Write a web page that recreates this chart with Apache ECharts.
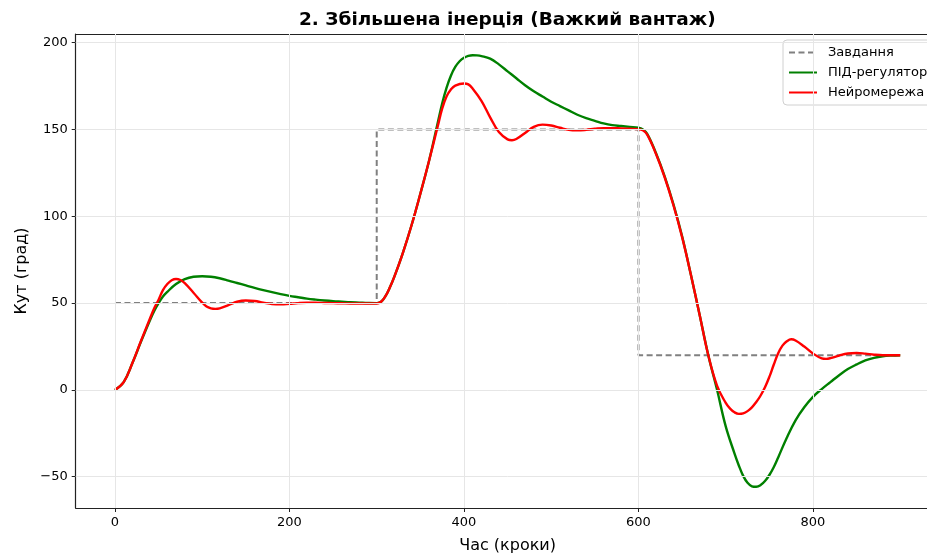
<!DOCTYPE html>
<html><head><meta charset="utf-8">
<script src="https://cdn.jsdelivr.net/npm/echarts@6/dist/echarts.min.js"></script>
<style>html,body{margin:0;padding:0;background:#fff;overflow:hidden;width:927px;height:553px}#c{width:940px;height:553px}</style>
</head><body><div id="c"></div>
<script>
const titleText = '2. Збільшена інерція (Важкий вантаж)';
const xName = 'Час (кроки)';
const yName = 'Кут (град)';
const names = ['Завдання', 'ПІД-регулятор', 'Нейромережа'];
const xTicks = [0, 200, 400, 600, 800];
const yTicks = [-50, 0, 50, 100, 150, 200];

const spT = [0, 300, 300, 600, 600, 900];
const spY = [50, 50, 150, 150, 20, 20];

const pidT = [0,10,20,30,40,45,50,55,60,70,80,90,100,
  110,120,130,140,150,160,170,180,190,200,210,220,230,240,250,260,270,280,290,300,
  305,310,315,320,330,340,350,360,
  370,375,380,385,390,395,400,405,410,415,420,
  430,440,450,460,470,480,490,500,510,520,530,540,550,560,570,580,590,600,
  605,610,620,630,640,650,660,670,680,690,700,710,
  715,720,725,730,735,740,745,750,755,760,
  770,780,790,800,810,820,830,840,850,860,870,880,890,900];
const pidY = [0,4.5,15.5,28,40,45.5,50,53.8,56.5,61,63.8,65.2,65.5,
  65.2,64.3,63,61.6,60.2,58.8,57.5,56.3,55.2,54.2,53.4,52.6,52,51.5,51.1,50.8,50.5,50.3,50.1,50,
  50.8,54,59,65,79,95,113,132,
  154,165,174,181,186,189.3,191.3,192.4,192.8,192.7,192.3,
  190.8,187.5,183.5,179.5,175.5,172,169,166,163.5,161,158.5,156.5,155,153.5,152.5,152,151.5,151,
  150,147.5,136.5,123,107,88.5,66.5,43.5,20,0.2,-21,-36.5,
  -43.5,-49.5,-53.5,-55.5,-55.8,-54.8,-52.5,-49,-44.5,-39,
  -27.5,-17.5,-10,-4,0.5,4.5,8.5,12,14.7,17,18.5,19.4,19.8,20];

const nnT = [0,10,20,30,40,45,50,55,60,65,70,75,80,90,100,105,110,115,120,
  130,140,150,160,170,180,190,200,210,220,230,240,250,260,270,280,290,300,
  305,310,315,320,330,340,350,360,370,375,380,385,390,400,405,410,420,430,440,450,455,
  460,470,480,490,500,510,520,530,540,550,560,570,580,590,600,
  605,610,620,630,640,650,660,670,680,690,700,705,710,715,720,725,730,735,740,745,750,755,760,765,770,775,780,
  790,800,810,815,820,830,840,850,860,870,880,890,900];
const nnY = [0,4.5,15.5,28.5,41,47,52,57.5,61,63.2,63.9,63.3,61.5,56,50.3,48,47,46.7,47,
  48.8,50.8,51.5,51.2,50.3,49.5,49.3,49.6,50,50.2,50.2,50.1,50,49.9,49.8,49.8,49.8,49.8,
  50.8,54,59,65,79,95,113,132,152,162,169,173,175.3,176.5,176,173.5,166.5,157,148.5,144.3,143.8,
  144.5,148,151.5,152.8,152.3,151,149.8,149.5,149.8,150.4,150.8,150.8,150.6,150.4,150.2,
  149.5,147,136,122.5,106.5,88,66.5,43.5,20,2.5,-7.5,-10.8,-12.9,-13.8,-13.5,-12.2,-10,-7,-3.2,1.5,7.5,14.5,21,25.5,28,29.2,28.5,
  25,21,18.2,17.9,18.3,19.8,21,21.3,20.9,20.3,20,20,20];

const zip = (a, b) => a.map((v, i) => [v, b[i]]);
const FONT = 'DejaVu Sans';
const minus = v => String(v).replace('-', '\u2212');

const chart = echarts.init(document.getElementById('c'), null, {renderer: 'canvas'});
chart.setOption({
  animation: false,
  backgroundColor: '#fff',
  title: {
    text: titleText, left: 294, top: 6,
    textStyle: {fontFamily: FONT, fontSize: 18.5, fontWeight: 'bold', color: '#000'}
  },
  legend: {
    data: names, orient: 'vertical', left: 783, top: 40,
    itemWidth: 28, itemHeight: 13, itemGap: 7,
    padding: [6, 8, 6, 5],
    itemStyle: {opacity: 0},
    backgroundColor: '#fff', borderColor: '#d0d0d0', borderWidth: 1, borderRadius: 4,
    textStyle: {fontFamily: FONT, fontSize: 13, color: '#000', padding: [0, 0, 0, 6]}
  },
  grid: {left: 75.7, right: 0.5, top: 34, bottom: 45, outerBoundsMode: 'none', containLabel: false},
  xAxis: [{
    type: 'value', min: -45, max: 945,
    name: xName, nameLocation: 'middle', nameGap: 30,
    nameTextStyle: {fontFamily: FONT, fontSize: 16, color: '#000'},
    axisLine: {show: true, onZero: false, lineStyle: {color: '#222', width: 1.2}},
    axisTick: {show: true, length: 4, customValues: xTicks, lineStyle: {color: '#222'}},
    axisLabel: {customValues: xTicks, fontFamily: FONT, fontSize: 13, color: '#000', margin: 8},
    splitLine: {show: false}
  }, {
    type: 'value', min: -45, max: 945, position: 'top',
    axisLine: {show: true, onZero: false, lineStyle: {color: '#222', width: 1.2}},
    axisTick: {show: false}, axisLabel: {show: false}, splitLine: {show: false}
  }],
  yAxis: {
    type: 'value', min: -68, max: 205,
    name: yName, nameLocation: 'middle', nameGap: 41,
    nameTextStyle: {fontFamily: FONT, fontSize: 16, color: '#000'},
    axisLine: {show: true, onZero: false, lineStyle: {color: '#222', width: 1.2}},
    axisTick: {show: true, length: 4, customValues: yTicks, lineStyle: {color: '#222'}},
    axisLabel: {customValues: yTicks, fontFamily: FONT, fontSize: 13, color: '#000', margin: 8, formatter: minus},
    splitLine: {show: false}
  },
  series: [{
    name: 'gridlines', type: 'line', data: [[0, 0]], symbol: 'none', silent: true,
    lineStyle: {opacity: 0}, z: 0,
    markLine: {
      silent: true, symbol: 'none', label: {show: false}, animation: false,
      lineStyle: {color: '#e6e6e6', type: 'solid', width: 1},
      emphasis: {disabled: true},
      data: xTicks.map(v => ({xAxis: v})).concat(yTicks.map(v => ({yAxis: v})))
    }
  }, {
    name: names[0], type: 'line', data: zip(spT, spY), symbol: 'none', z: 2,
    lineStyle: {color: '#808080', width: 2, type: [6, 3.5]}, itemStyle: {color: '#808080'}
  }, {
    name: names[1], type: 'line', data: zip(pidT, pidY), symbol: 'none', smooth: 0.4, z: 3,
    lineStyle: {color: '#008000', width: 2.4}, itemStyle: {color: '#008000'}
  }, {
    name: names[2], type: 'line', data: zip(nnT, nnY), symbol: 'none', smooth: 0.4, z: 4,
    lineStyle: {color: '#ff0000', width: 2.4}, itemStyle: {color: '#ff0000'}
  }]
});
</script></body></html>
